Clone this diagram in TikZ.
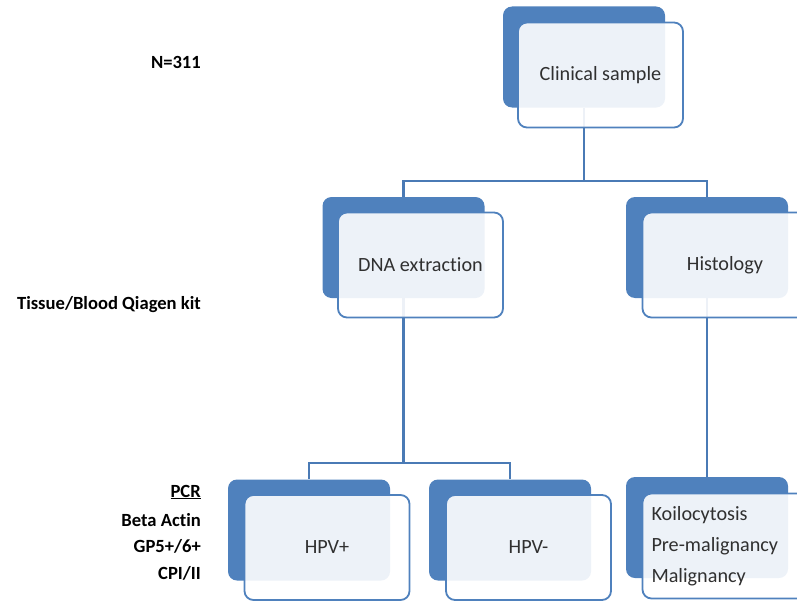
\documentclass[tikz,border=0pt]{standalone}
\usepackage{fontspec}
\setmainfont[Ligatures=NoCommon]{Carlito}
\usetikzlibrary{positioning}

\definecolor{boxblue}{HTML}{4F81BD}
\definecolor{linkblue}{HTML}{4A7AB5}
\definecolor{txtgray}{HTML}{303030}

\tikzset{
  backbox/.style={fill=boxblue, rounded corners=9pt, minimum width=162pt,
    minimum height=101pt, inner sep=0pt},
  frontbox/.style={draw=boxblue, line width=1.8pt, fill=white, fill opacity=0.9,
    text opacity=1, rounded corners=9pt, minimum width=165pt, minimum height=105pt,
    inner xsep=9pt, inner ysep=0pt, text=txtgray, font=\fontsize{20.2}{31}\selectfont},
  link/.style={draw=linkblue, line width=2.2pt},
  sidelabel/.style={anchor=east, inner sep=0pt, font=\bfseries\fontsize{18.6}{22}\selectfont}
}

\begin{document}
\begin{tikzpicture}[x=1pt,y=-1pt]

\useasboundingbox (0,0) rectangle (797,602);

% Back boxes
\foreach \n/\x/\y in {clin/584/57, dna/403.5/247.5, hist/707/247.5,
  hpvp/309/530, hpvn/510/530, res/707/527.5}
  \node[backbox] (\n) at (\x,\y) {};

% Connectors
\draw[link] (clin.south) -- ++(0,73.5) -| (dna.north);
\draw[link] (clin.south) -- ++(0,73.5) -| (hist.north);
\draw[link] (dna.south) -- ++(0,164.7) -| (hpvp.north);
\draw[link] (dna.south) -- ++(0,164.7) -| (hpvn.north);
\draw[link] (hist.south) -- (res.north);

% Front boxes
\node[frontbox] (clinF) at (600.5,75) {Clinical sample};
\node[frontbox] (dnaF) at (420.5,265) {DNA extraction};
\node[frontbox] (histF) at (725,265) {Histology};
\node[frontbox] (hpvpF) at (327,547.5) {HPV+};
\node[frontbox] (hpvnF) at (528.5,547.5) {HPV-};
\node[frontbox, align=left, text width=147pt] (resF) at (725,546)
  {Koilocytosis\\Pre-malignancy\\Malignancy};

% Side labels
\node[sidelabel] (nlab) at (201,62) {N=311};
\node[sidelabel] (kitlab) at (201,305) {Tissue/Blood Qiagen kit};
\node[sidelabel] (pcrlab) at (201,492) {\underline{PCR}};
\node[sidelabel] (actlab) at (201,520) {Beta Actin};
\node[sidelabel] (gplab) at (201,546) {GP5+/6+};
\node[sidelabel] (cplab) at (201,573) {CPI/II};

\end{tikzpicture}
\end{document}
